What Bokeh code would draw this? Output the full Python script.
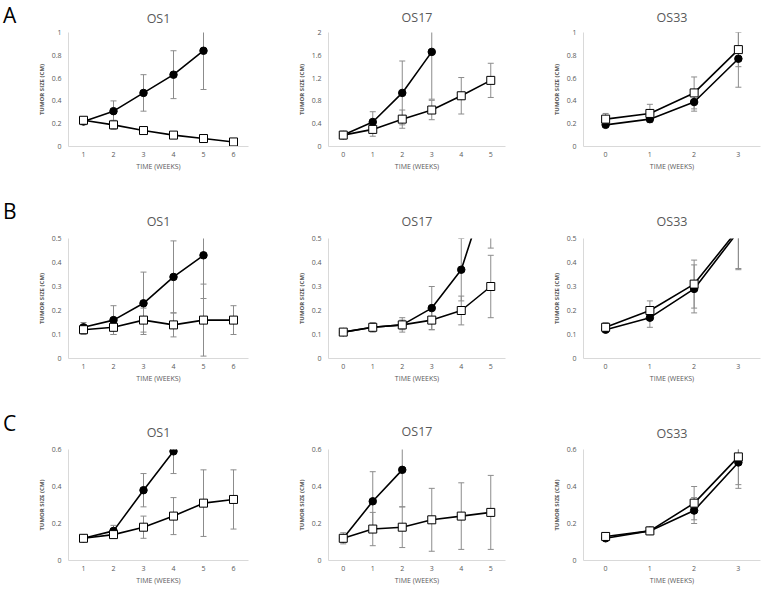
from bokeh.plotting import figure
from bokeh.layouts import column, row
from bokeh.models import FixedTicker, Range1d, ColumnDataSource, Div
from bokeh.embed import file_html
from bokeh.resources import INLINE

FONT = "Open Sans"

# ---------------- data ----------------
row_letters = ["A", "B", "C"]
panel_titles = ["OS1", "OS17", "OS33"]
x_title = "TIME (WEEKS)"
y_title = "TUMOR SIZE (CM)"

A_OS1_weeks = [1, 2, 3, 4, 5, 6]
A_OS1_filled = [0.22, 0.31, 0.47, 0.63, 0.84]
A_OS1_filled_err = [0.03, 0.09, 0.16, 0.21, 0.34]
A_OS1_open = [0.23, 0.19, 0.14, 0.10, 0.07, 0.04]
A_OS1_open_err = [0.03, 0.04, 0.02, 0.03, 0.02, 0.02]

A_OS17_weeks = [0, 1, 2, 3, 4, 5]
A_OS17_filled = [0.20, 0.43, 0.94, 1.66]
A_OS17_filled_err = [0.05, 0.18, 0.56, 0.83]
A_OS17_open = [0.20, 0.30, 0.48, 0.64, 0.89, 1.16]
A_OS17_open_err = [0.07, 0.12, 0.16, 0.17, 0.32, 0.30]

A_OS33_weeks = [0, 1, 2, 3]
A_OS33_filled = [0.19, 0.24, 0.39, 0.77]
A_OS33_filled_err = [0.02, 0.03, 0.08, 0.25]
A_OS33_open = [0.24, 0.29, 0.47, 0.85]
A_OS33_open_err = [0.05, 0.08, 0.14, 0.15]

B_OS1_weeks = [1, 2, 3, 4, 5, 6]
B_OS1_filled = [0.13, 0.16, 0.23, 0.34, 0.43]
B_OS1_filled_err = [0.02, 0.06, 0.13, 0.15, 0.18]
B_OS1_open = [0.12, 0.13, 0.16, 0.14, 0.16, 0.16]
B_OS1_open_err = [0.02, 0.03, 0.05, 0.05, 0.15, 0.06]

B_OS17_weeks = [0, 1, 2, 3, 4, 5]
B_OS17_filled = [0.11, 0.13, 0.14, 0.21, 0.37, 0.75]
B_OS17_filled_err = [0.005, 0.02, 0.03, 0.09, 0.13, 0.29]
B_OS17_open = [0.11, 0.13, 0.14, 0.16, 0.20, 0.30]
B_OS17_open_err = [0.005, 0.01, 0.02, 0.04, 0.06, 0.13]

B_OS33_weeks = [0, 1, 2, 3]
B_OS33_filled = [0.12, 0.17, 0.29, 0.53]
B_OS33_filled_err = [0.01, 0.04, 0.10, 0.16]
B_OS33_open = [0.13, 0.20, 0.31, 0.54]
B_OS33_open_err = [0.02, 0.04, 0.10, 0.165]

C_OS1_weeks = [1, 2, 3, 4, 5, 6]
C_OS1_filled = [0.12, 0.16, 0.38, 0.59]
C_OS1_filled_err = [0.01, 0.03, 0.09, 0.12]
C_OS1_open = [0.12, 0.14, 0.18, 0.24, 0.31, 0.33]
C_OS1_open_err = [0.01, 0.02, 0.06, 0.10, 0.18, 0.16]

C_OS17_weeks = [0, 1, 2, 3, 4, 5]
C_OS17_filled = [0.12, 0.32, 0.49]
C_OS17_filled_err = [0.02, 0.16, 0.20]
C_OS17_open = [0.12, 0.17, 0.18, 0.22, 0.24, 0.26]
C_OS17_open_err = [0.03, 0.09, 0.11, 0.17, 0.18, 0.20]

C_OS33_weeks = [0, 1, 2, 3]
C_OS33_filled = [0.12, 0.16, 0.27, 0.53]
C_OS33_filled_err = [0.01, 0.02, 0.07, 0.14]
C_OS33_open = [0.13, 0.16, 0.31, 0.56]
C_OS33_open_err = [0.01, 0.02, 0.09, 0.15]

A_OS1_yticks = [0, 0.2, 0.4, 0.6, 0.8, 1]
A_OS1_ylabels = ["0", "0.2", "0.4", "0.6", "0.8", "1"]
A_OS17_yticks = [0, 0.4, 0.8, 1.2, 1.6, 2]
A_OS17_ylabels = ["0", "0.4", "0.8", "1.2", "1.6", "2"]
A_OS33_yticks = [0, 0.2, 0.4, 0.6, 0.8, 1]
A_OS33_ylabels = ["0", "0.2", "0.4", "0.6", "0.8", "1"]
B_yticks = [0, 0.1, 0.2, 0.3, 0.4, 0.5]
B_ylabels = ["0", "0.1", "0.2", "0.3", "0.4", "0.5"]
C_yticks = [0, 0.2, 0.4, 0.6]
C_ylabels = ["0", "0.2", "0.4", "0.6"]

panels = [
    [(A_OS1_weeks, A_OS1_filled, A_OS1_filled_err, A_OS1_open, A_OS1_open_err, A_OS1_yticks, A_OS1_ylabels),
     (A_OS17_weeks, A_OS17_filled, A_OS17_filled_err, A_OS17_open, A_OS17_open_err, A_OS17_yticks, A_OS17_ylabels),
     (A_OS33_weeks, A_OS33_filled, A_OS33_filled_err, A_OS33_open, A_OS33_open_err, A_OS33_yticks, A_OS33_ylabels)],
    [(B_OS1_weeks, B_OS1_filled, B_OS1_filled_err, B_OS1_open, B_OS1_open_err, B_yticks, B_ylabels),
     (B_OS17_weeks, B_OS17_filled, B_OS17_filled_err, B_OS17_open, B_OS17_open_err, B_yticks, B_ylabels),
     (B_OS33_weeks, B_OS33_filled, B_OS33_filled_err, B_OS33_open, B_OS33_open_err, B_yticks, B_ylabels)],
    [(C_OS1_weeks, C_OS1_filled, C_OS1_filled_err, C_OS1_open, C_OS1_open_err, C_yticks, C_ylabels),
     (C_OS17_weeks, C_OS17_filled, C_OS17_filled_err, C_OS17_open, C_OS17_open_err, C_yticks, C_ylabels),
     (C_OS33_weeks, C_OS33_filled, C_OS33_filled_err, C_OS33_open, C_OS33_open_err, C_yticks, C_ylabels)],
]

# ---------------- geometry / style ----------------
letter_width = 18
letter_pad_left = 3
letter_pad_top = [0, 6, 23]
col_widths = [240, 252, 252]
col_left = [50, 70, 73]
col_right = [10, 5, 2]
row_heights = [190, 195, 204]
row_top = [[29, 30, 31], [48, 48, 48], [64, 63, 63]]
row_bottom = [[44, 42, 38], [27, 27, 27], [25, 25, 29]]
title_standoff = [[12, 13, 13], [17, 17, 17], [18, 20, 15]]

ERR_COLOR = "#8c8c8c"
AXIS_COLOR = "#d9d9d9"
TEXT_COLOR = "#595959"


def make_letter(r):
    return Div(text=row_letters[r], width=letter_width, height=row_heights[r],
               styles={"font-family": FONT, "font-size": "21px", "line-height": "30px",
                       "color": "black", "padding-left": "%dpx" % letter_pad_left,
                       "padding-top": "%dpx" % letter_pad_top[r],
                       "box-sizing": "border-box", "margin": "0px"})


def make_panel(r, c):
    weeks, filled, filled_err, opened, opened_err, yticks, ylabels = panels[r][c]
    p = figure(width=col_widths[c], height=row_heights[r], output_backend="svg",
               toolbar_location=None,
               x_range=Range1d(weeks[0] - 0.5, weeks[-1] + 0.5),
               y_range=Range1d(yticks[0], yticks[-1]),
               min_border_left=col_left[c], min_border_right=col_right[c],
               min_border_top=row_top[r][c], min_border_bottom=row_bottom[r][c])
    p.outline_line_color = None
    p.grid.visible = False
    p.title.text = panel_titles[c]
    p.title.align = "center"
    p.title.text_font = FONT
    p.title.text_font_size = "12.5px"
    p.title.text_font_style = "normal"
    p.title.text_color = TEXT_COLOR
    p.title.standoff = title_standoff[r][c]

    for ax in (p.xaxis[0], p.yaxis[0]):
        ax.axis_line_color = AXIS_COLOR
        ax.axis_line_width = 1
        ax.major_tick_line_color = None
        ax.minor_tick_line_color = None
        ax.major_tick_out = 0
        ax.major_tick_in = 0
        ax.major_label_text_font = FONT
        ax.major_label_text_font_size = "7px"
        ax.major_label_text_color = TEXT_COLOR
        ax.axis_label_text_font = FONT
        ax.axis_label_text_color = TEXT_COLOR

    p.xaxis.ticker = FixedTicker(ticks=weeks)
    p.xaxis.major_label_standoff = 5
    p.xaxis.axis_label = x_title
    p.xaxis.axis_label_text_font_size = "7px"
    p.xaxis.axis_label_text_font_style = "normal"
    p.xaxis.axis_label_standoff = 2

    p.yaxis.ticker = FixedTicker(ticks=yticks)
    p.yaxis.major_label_overrides = {t: l for t, l in zip(yticks, ylabels)}
    p.yaxis.major_label_standoff = 7
    p.yaxis.axis_label = y_title
    p.yaxis.axis_label_text_font_size = "6px"
    p.yaxis.axis_label_text_font_style = "bold"
    p.yaxis.axis_label_standoff = 3

    fsrc = ColumnDataSource(dict(
        x=weeks[:len(filled)], y=filled,
        lo=[v - e for v, e in zip(filled, filled_err)],
        hi=[v + e for v, e in zip(filled, filled_err)]))
    osrc = ColumnDataSource(dict(
        x=weeks[:len(opened)], y=opened,
        lo=[v - e for v, e in zip(opened, opened_err)],
        hi=[v + e for v, e in zip(opened, opened_err)]))

    for src in (fsrc, osrc):
        p.segment(x0="x", y0="lo", x1="x", y1="hi", source=src,
                  line_color=ERR_COLOR, line_width=1)
        p.scatter(x="x", y="lo", source=src, marker="dash", size=6,
                  line_color=ERR_COLOR, line_width=1)
        p.scatter(x="x", y="hi", source=src, marker="dash", size=6,
                  line_color=ERR_COLOR, line_width=1)

    p.line(x="x", y="y", source=fsrc, line_color="black", line_width=1.6)
    p.scatter(x="x", y="y", source=fsrc, marker="circle", size=7.5,
              fill_color="black", line_color="black")
    p.line(x="x", y="y", source=osrc, line_color="black", line_width=1.6)
    p.scatter(x="x", y="y", source=osrc, marker="square", size=8,
              fill_color="white", line_color="black", line_width=1)
    return p


rows = []
for r in range(3):
    rows.append(row(make_letter(r), *[make_panel(r, c) for c in range(3)], spacing=0))
layout = column(*rows, spacing=0)

open("out.html", "w").write(file_html(layout, INLINE))
